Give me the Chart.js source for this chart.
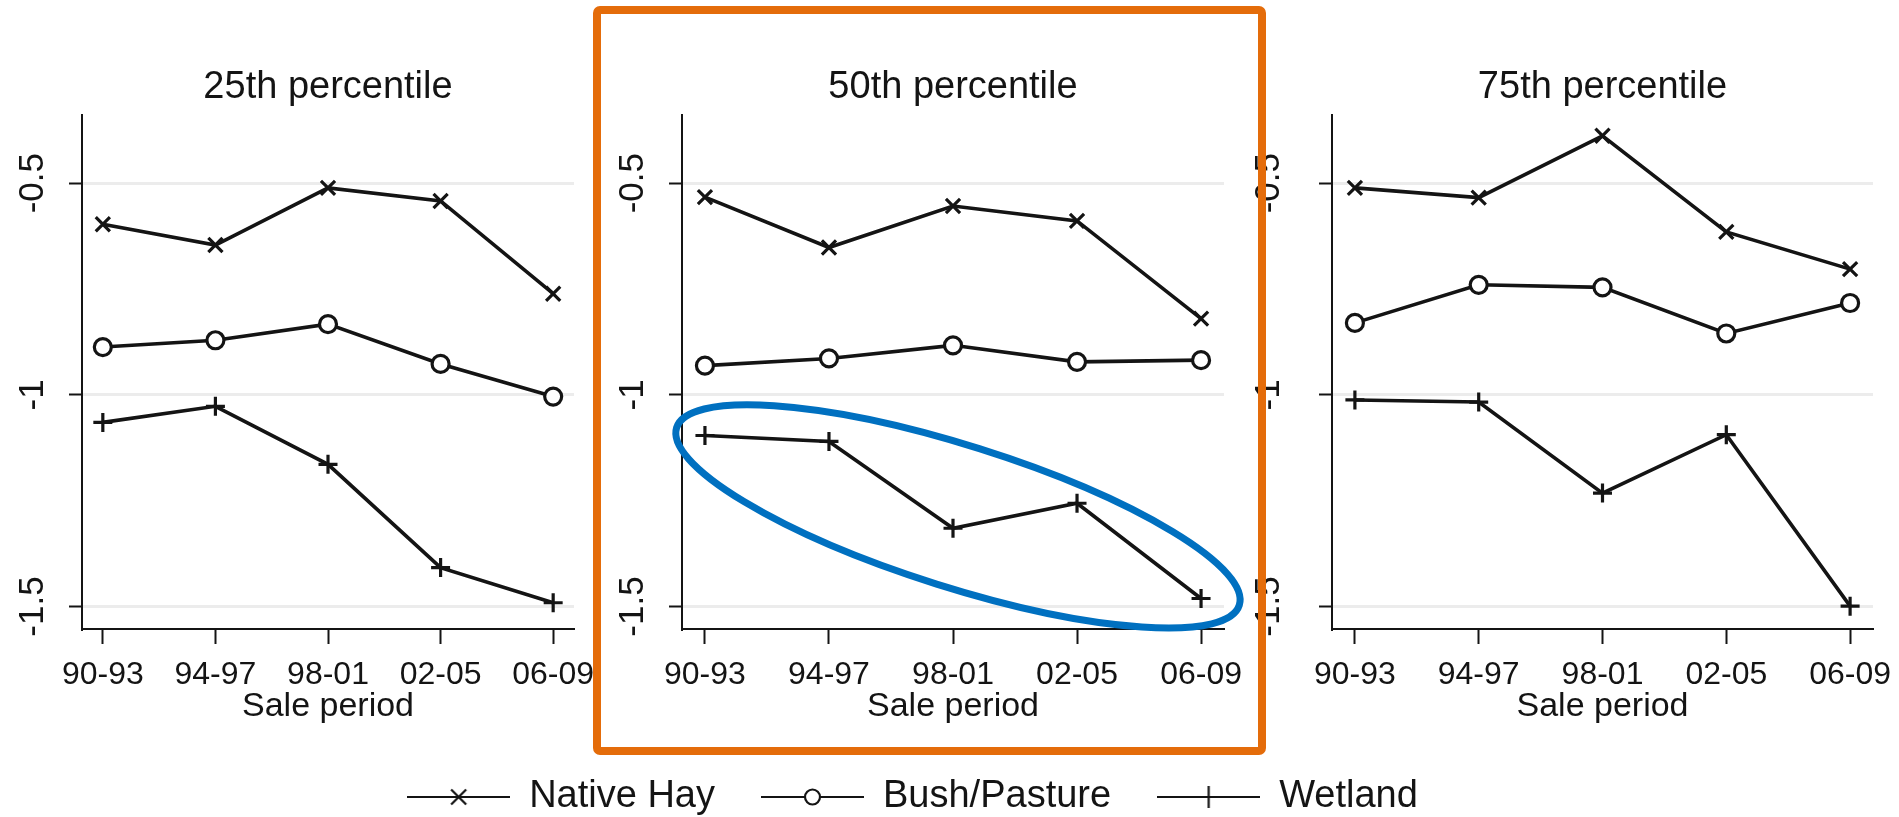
<!DOCTYPE html>
<html>
<head>
<meta charset="utf-8">
<title>Price gaps by sale period</title>
<script src="https://cdn.jsdelivr.net/npm/chart.js@4"></script>
<style>
  html, body { margin: 0; padding: 0; background: #fff; }
  body { width: 1899px; height: 817px; position: relative; overflow: hidden; }
  canvas { position: absolute; top: 0; }
  #highlight {
    position: absolute; left: 593px; top: 6px; width: 673px; height: 749px;
    border: 8px solid #e46c0a; border-radius: 7px; box-sizing: border-box;
    pointer-events: none;
  }
</style>
</head>
<body>
<canvas id="p25" width="600" height="727" style="left:0"></canvas>
<canvas id="p50" width="650" height="727" style="left:600px"></canvas>
<canvas id="p75" width="649" height="727" style="left:1250px"></canvas>
<canvas id="legend" width="1825" height="300" style="left:0;top:732px"></canvas>
<div id="highlight"></div>
<script>
const periods = ["90-93", "94-97", "98-01", "02-05", "06-09"];
const seriesNames = ["Native Hay", "Bush/Pasture", "Wetland"];
const yTicks = [-1.5, -1, -0.5];
const yTickLabels = ["-1.5", "-1", "-0.5"];

// 25th percentile
const p25NativeHay = [-0.597, -0.646, -0.511, -0.542, -0.761];
const p25BushPasture = [-0.887, -0.871, -0.833, -0.927, -1.004];
const p25Wetland = [-1.065, -1.027, -1.164, -1.408, -1.491];

// 50th percentile
const p50NativeHay = [-0.533, -0.652, -0.554, -0.589, -0.82];
const p50BushPasture = [-0.931, -0.914, -0.883, -0.922, -0.918];
const p50Wetland = [-1.096, -1.11, -1.315, -1.256, -1.481];

// 75th percentile
const p75NativeHay = [-0.511, -0.534, -0.388, -0.615, -0.703];
const p75BushPasture = [-0.83, -0.74, -0.746, -0.855, -0.783];
const p75Wetland = [-1.012, -1.017, -1.232, -1.094, -1.499];

const INK = "#141414";
const markerStyles = ["crossRot", "circle", "cross"];
const markerRadii = [10, 8.5, 9.5];

Chart.defaults.font.family = "'Liberation Sans', Arial, Helvetica, sans-serif";
Chart.defaults.color = INK;

function panelConfig(title, series, labelGap, extraPlugins = []) {
  return {
    type: "line",
    data: {
      datasets: series.map((values, i) => ({
        label: seriesNames[i],
        data: values.map((y, x) => ({ x, y })),
        borderColor: INK,
        borderWidth: 3.6,
        pointStyle: markerStyles[i],
        pointRadius: markerRadii[i],
        pointBorderColor: INK,
        pointBackgroundColor: "#fff",
        pointBorderWidth: 3.2,
        tension: 0,
        fill: false,
      })),
    },
    options: {
      responsive: false,
      animation: false,
      events: [],
      layout: { padding: { right: 26 } },
      plugins: {
        legend: { display: false },
        tooltip: { enabled: false },
        title: {
          display: true,
          text: title,
          fullSize: false,
          color: INK,
          font: { size: 38, weight: "normal" },
          padding: { top: 65, bottom: 4 },
        },
      },
      scales: {
        x: {
          type: "linear",
          min: -0.185,
          max: 4.185,
          afterBuildTicks: (scale) => {
            scale.ticks = periods.map((_, i) => ({ value: i }));
          },
          afterFit: (scale) => {
            scale.height = 98;
            scale.paddingLeft = 0;
            scale.paddingRight = 0;
          },
          ticks: {
            callback: (value) => periods[value],
            font: { size: 32 },
            color: INK,
            padding: 12,
            maxRotation: 0,
            autoSkip: false,
          },
          grid: { drawOnChartArea: false, tickLength: 15, tickColor: INK, tickWidth: 2 },
          border: { color: INK, width: 2 },
          title: {
            display: true,
            text: "Sale period",
            color: INK,
            font: { size: 34 },
            padding: 0,
          },
        },
        y: {
          type: "linear",
          min: -1.553,
          max: -0.338,
          afterBuildTicks: (scale) => {
            scale.ticks = yTicks.map((value) => ({ value }));
          },
          afterFit: (scale) => {
            scale.width = 82;
            scale.paddingTop = 0;
            scale.paddingBottom = 0;
          },
          ticks: {
            callback: (value) => yTickLabels[yTicks.indexOf(value)],
            font: { size: 35 },
            color: INK,
            minRotation: 90,
            maxRotation: 90,
            crossAlign: "center",
            padding: labelGap,
            autoSkip: false,
          },
          grid: { color: "#ececec", lineWidth: 3, tickLength: 13, tickColor: INK, tickWidth: 2 },
          border: { color: INK, width: 2 },
        },
      },
    },
    plugins: extraPlugins,
  };
}

// Blue ring around the wetland series of the median panel
const wetlandRing = {
  id: "wetlandRing",
  afterDraw(chart) {
    const { ctx, scales: { x, y } } = chart;
    ctx.save();
    ctx.strokeStyle = "#0070c0";
    ctx.lineWidth = 7;
    ctx.beginPath();
    ctx.ellipse(x.getPixelForValue(2.04), y.getPixelForValue(-1.287), 295, 71, (17.5 * Math.PI) / 180, 0, Math.PI * 2);
    ctx.stroke();
    ctx.restore();
  },
};

new Chart(document.getElementById("p25"), panelConfig("25th percentile", [p25NativeHay, p25BushPasture, p25Wetland], 6));
new Chart(document.getElementById("p50"), panelConfig("50th percentile", [p50NativeHay, p50BushPasture, p50Wetland], 6, [wetlandRing]));
new Chart(document.getElementById("p75"), panelConfig("75th percentile", [p75NativeHay, p75BushPasture, p75Wetland], 20));

// Legend swatches: a short line with the series marker in the middle
function legendIcon(style) {
  const c = document.createElement("canvas");
  c.width = 103;
  c.height = 26;
  const g = c.getContext("2d");
  const cx = 51.5, cy = 13;
  g.strokeStyle = INK;
  g.lineWidth = 2.2;
  g.beginPath();
  g.moveTo(0, cy);
  g.lineTo(103, cy);
  g.stroke();
  g.beginPath();
  if (style === "crossRot") {
    const d = 7.5;
    g.moveTo(cx - d, cy - d); g.lineTo(cx + d, cy + d);
    g.moveTo(cx - d, cy + d); g.lineTo(cx + d, cy - d);
    g.stroke();
  } else if (style === "circle") {
    g.fillStyle = "#fff";
    g.arc(cx, cy, 7.5, 0, Math.PI * 2);
    g.fill();
    g.stroke();
  } else {
    g.moveTo(cx, cy - 11); g.lineTo(cx, cy + 11);
    g.stroke();
  }
  return c;
}

const legendIcons = markerStyles.map(legendIcon);

new Chart(document.getElementById("legend"), {
  type: "line",
  data: { datasets: seriesNames.map((label) => ({ label, data: [] })) },
  options: {
    responsive: false,
    animation: false,
    events: [],
    scales: { x: { display: false }, y: { display: false } },
    plugins: {
      tooltip: { enabled: false },
      legend: {
        position: "top",
        labels: {
          usePointStyle: true,
          pointStyleWidth: 103,
          padding: 46,
          color: INK,
          font: { size: 38 },
          generateLabels: (chart) =>
            chart.data.datasets.map((ds, i) => ({
              text: ds.label,
              pointStyle: legendIcons[i],
              datasetIndex: i,
              hidden: false,
              lineWidth: 0,
              fontColor: INK,
            })),
        },
      },
    },
  },
});
</script>
</body>
</html>
